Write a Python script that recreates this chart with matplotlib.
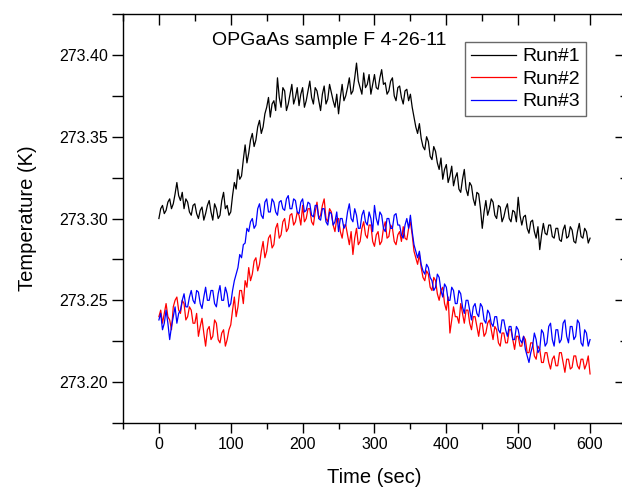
import matplotlib
matplotlib.use("Agg")
import matplotlib.pyplot as plt
from matplotlib.lines import TICKDOWN, TICKLEFT
from matplotlib.ticker import MultipleLocator, FormatStrFormatter
import numpy as np

plt.rcParams['font.family'] = ['Liberation Sans', 'DejaVu Sans']

# time axis (sec), read every 2.5 s
time = np.arange(0, 600.1, 2.5)

run1 = [273.300, 273.306, 273.308, 273.303, 273.305, 273.310, 273.312, 273.306, 273.309, 273.315,
        273.322, 273.314, 273.311, 273.316, 273.306, 273.312, 273.310, 273.304, 273.302, 273.308,
        273.309, 273.303, 273.300, 273.305, 273.307, 273.299, 273.303, 273.308, 273.311, 273.304,
        273.299, 273.309, 273.306, 273.300, 273.302, 273.311, 273.316, 273.306, 273.308, 273.302,
        273.304, 273.314, 273.322, 273.318, 273.330, 273.324, 273.326, 273.336, 273.345, 273.334,
        273.340, 273.348, 273.352, 273.344, 273.348, 273.356, 273.360, 273.352, 273.356, 273.364,
        273.368, 273.374, 273.362, 273.370, 273.372, 273.366, 273.386, 273.374, 273.368, 273.380,
        273.378, 273.366, 273.370, 273.376, 273.382, 273.370, 273.374, 273.380, 273.369, 273.376,
        273.380, 273.368, 273.372, 273.378, 273.384, 273.374, 273.370, 273.380, 273.378, 273.372,
        273.366, 273.376, 273.381, 273.370, 273.373, 273.382, 273.377, 273.372, 273.368, 273.376,
        273.364, 273.374, 273.382, 273.372, 273.375, 273.380, 273.386, 273.376, 273.378, 273.386,
        273.395, 273.384, 273.380, 273.376, 273.389, 273.380, 273.382, 273.388, 273.376, 273.382,
        273.388, 273.380, 273.379, 273.386, 273.391, 273.382, 273.383, 273.376, 273.378, 273.384,
        273.386, 273.375, 273.372, 273.380, 273.381, 273.374, 273.370, 273.378, 273.379, 273.372,
        273.376, 273.368, 273.362, 273.356, 273.352, 273.358, 273.349, 273.344, 273.342, 273.350,
        273.347, 273.338, 273.336, 273.344, 273.341, 273.334, 273.330, 273.337, 273.324, 273.330,
        273.333, 273.322, 273.326, 273.332, 273.320, 273.325, 273.328, 273.318, 273.316, 273.324,
        273.330, 273.318, 273.314, 273.322, 273.320, 273.312, 273.308, 273.316, 273.315, 273.306,
        273.294, 273.304, 273.311, 273.302, 273.306, 273.312, 273.310, 273.302, 273.300, 273.308,
        273.307, 273.298, 273.301, 273.306, 273.309, 273.300, 273.298, 273.305, 273.304, 273.298,
        273.313, 273.302, 273.296, 273.301, 273.302, 273.294, 273.291, 273.298, 273.299, 273.292,
        273.288, 273.295, 273.281, 273.290, 273.297, 273.291, 273.290, 273.296, 273.296, 273.289,
        273.288, 273.294, 273.294, 273.287, 273.286, 273.293, 273.296, 273.288, 273.289, 273.295,
        273.293, 273.286, 273.285, 273.292, 273.297, 273.289, 273.288, 273.294, 273.292, 273.285,
        273.288]

run2 = [273.240, 273.244, 273.236, 273.242, 273.248, 273.240, 273.238, 273.232, 273.246, 273.250,
        273.252, 273.244, 273.242, 273.250, 273.248, 273.238, 273.240, 273.246, 273.244, 273.236,
        273.236, 273.242, 273.228, 273.234, 273.239, 273.230, 273.222, 273.232, 273.234, 273.226,
        273.228, 273.238, 273.236, 273.226, 273.224, 273.230, 273.232, 273.222, 273.226, 273.232,
        273.235, 273.244, 273.252, 273.240, 273.246, 273.256, 273.256, 273.248, 273.262, 273.258,
        273.270, 273.262, 273.266, 273.274, 273.276, 273.268, 273.272, 273.280, 273.286, 273.276,
        273.280, 273.288, 273.290, 273.282, 273.284, 273.294, 273.297, 273.288, 273.290, 273.298,
        273.300, 273.292, 273.294, 273.302, 273.303, 273.296, 273.298, 273.304, 273.302, 273.296,
        273.308, 273.298, 273.300, 273.306, 273.306, 273.298, 273.296, 273.304, 273.310, 273.300,
        273.302, 273.308, 273.312, 273.300, 273.298, 273.306, 273.304, 273.296, 273.292, 273.300,
        273.300, 273.292, 273.288, 273.296, 273.296, 273.290, 273.284, 273.292, 273.278, 273.288,
        273.294, 273.284, 273.286, 273.294, 273.298, 273.290, 273.288, 273.296, 273.296, 273.286,
        273.283, 273.290, 273.292, 273.284, 273.286, 273.294, 273.298, 273.288, 273.289, 273.296,
        273.294, 273.286, 273.284, 273.290, 273.292, 273.286, 273.295, 273.288, 273.287, 273.294,
        273.298, 273.290, 273.280, 273.276, 273.272, 273.278, 273.270, 273.264, 273.262, 273.268,
        273.266, 273.258, 273.256, 273.264, 273.262, 273.254, 273.250, 273.256, 273.258, 273.248,
        273.244, 273.252, 273.230, 273.238, 273.246, 273.240, 273.240, 273.236, 273.248, 273.242,
        273.236, 273.244, 273.244, 273.236, 273.232, 273.240, 273.240, 273.234, 273.228, 273.236,
        273.236, 273.228, 273.230, 273.236, 273.238, 273.232, 273.226, 273.234, 273.232, 273.224,
        273.222, 273.230, 273.230, 273.224, 273.224, 273.232, 273.232, 273.226, 273.220, 273.228,
        273.228, 273.222, 273.222, 273.228, 273.226, 273.218, 273.218, 273.224, 273.224, 273.216,
        273.214, 273.222, 273.220, 273.212, 273.212, 273.218, 273.218, 273.212, 273.208, 273.214,
        273.216, 273.210, 273.210, 273.218, 273.218, 273.212, 273.206, 273.214, 273.214, 273.208,
        273.209, 273.216, 273.216, 273.210, 273.208, 273.214, 273.214, 273.208, 273.211, 273.216,
        273.205]

run3 = [273.238, 273.242, 273.232, 273.236, 273.244, 273.236, 273.226, 273.234, 273.240, 273.246,
        273.236, 273.242, 273.244, 273.250, 273.254, 273.246, 273.246, 273.252, 273.256, 273.250,
        273.248, 273.256, 273.255, 273.248, 273.245, 273.252, 273.258, 273.250, 273.250, 273.256,
        273.256, 273.248, 273.246, 273.254, 273.259, 273.250, 273.250, 273.258, 273.254, 273.246,
        273.248, 273.256, 273.262, 273.266, 273.270, 273.278, 273.276, 273.284, 273.285, 273.294,
        273.292, 273.298, 273.300, 273.294, 273.296, 273.306, 273.309, 273.302, 273.300, 273.310,
        273.312, 273.304, 273.304, 273.312, 273.310, 273.304, 273.302, 273.310, 273.311, 273.306,
        273.305, 273.312, 273.314, 273.306, 273.306, 273.312, 273.311, 273.304, 273.303, 273.310,
        273.312, 273.304, 273.305, 273.310, 273.309, 273.302, 273.301, 273.308, 273.308, 273.300,
        273.299, 273.306, 273.306, 273.298, 273.296, 273.304, 273.303, 273.296, 273.298, 273.304,
        273.292, 273.300, 273.300, 273.294, 273.296, 273.304, 273.309, 273.300, 273.298, 273.306,
        273.302, 273.294, 273.294, 273.302, 273.305, 273.298, 273.296, 273.304, 273.300, 273.292,
        273.308, 273.300, 273.296, 273.304, 273.302, 273.294, 273.292, 273.300, 273.300, 273.294,
        273.294, 273.302, 273.303, 273.296, 273.296, 273.290, 273.288, 273.296, 273.300, 273.294,
        273.302, 273.292, 273.284, 273.280, 273.276, 273.280, 273.272, 273.268, 273.266, 273.272,
        273.270, 273.264, 273.262, 273.256, 273.258, 273.266, 273.264, 273.256, 273.252, 273.260,
        273.258, 273.250, 273.250, 273.258, 273.256, 273.248, 273.248, 273.256, 273.254, 273.246,
        273.242, 273.250, 273.250, 273.244, 273.238, 273.246, 273.248, 273.242, 273.240, 273.248,
        273.246, 273.238, 273.236, 273.244, 273.242, 273.236, 273.234, 273.240, 273.240, 273.232,
        273.230, 273.238, 273.238, 273.232, 273.228, 273.234, 273.234, 273.226, 273.226, 273.234,
        273.232, 273.226, 273.224, 273.228, 273.220, 273.216, 273.212, 273.218, 273.222, 273.230,
        273.226, 273.218, 273.220, 273.232, 273.230, 273.222, 273.224, 273.234, 273.236, 273.226,
        273.222, 273.232, 273.232, 273.224, 273.226, 273.236, 273.238, 273.228, 273.224, 273.234,
        273.234, 273.226, 273.228, 273.238, 273.236, 273.224, 273.222, 273.232, 273.230, 273.222,
        273.226]

fig = plt.figure(figsize=(6.22, 4.87), dpi=100)
ax = fig.add_axes([0.1977, 0.1314, 0.8087, 0.8398])

ax.plot(time, run1, color='black', lw=0.9, label='Run#1')
ax.plot(time, run2, color='#ff0000', lw=0.9, label='Run#2')
ax.plot(time, run3, color='#0000ff', lw=0.9, label='Run#3')

ax.set_xlim(-50, 650)
ax.set_ylim(273.175, 273.425)

ax.xaxis.set_major_locator(MultipleLocator(100))
ax.xaxis.set_minor_locator(MultipleLocator(50))
ax.yaxis.set_major_locator(MultipleLocator(0.05))
ax.yaxis.set_minor_locator(MultipleLocator(0.025))
ax.yaxis.set_major_formatter(FormatStrFormatter('%.2f'))

# ticks out on bottom/left, in on top/right (origin style)
ax.tick_params(axis='x', which='major', direction='out', length=7, width=1, labelsize=11.5, pad=3)
ax.tick_params(axis='x', which='minor', direction='out', length=4, width=1)
ax.tick_params(axis='y', which='both', direction='out', length=8, width=1, labelsize=11.5, pad=3)
ax.tick_params(which='both', top=True, right=True)
for t in ax.xaxis.get_major_ticks():
    t.tick2line.set_marker(TICKDOWN)
    t.tick2line.set_markersize(8)
for t in ax.xaxis.get_minor_ticks():
    t.tick2line.set_marker(TICKDOWN)
    t.tick2line.set_markersize(5)
for t in ax.yaxis.get_major_ticks():
    t.tick2line.set_marker(TICKLEFT)
    t.tick2line.set_markersize(8)
for t in ax.yaxis.get_minor_ticks():
    t.tick2line.set_marker(TICKLEFT)
    t.tick2line.set_markersize(4)

for s in ax.spines.values():
    s.set_linewidth(1)

ax.set_xlabel('Time (sec)', fontsize=14.5, labelpad=11.5)
ax.set_ylabel('Temperature (K)', fontsize=14.5, labelpad=16)

ax.text(0.4105, 0.936, 'OPGaAs sample F 4-26-11', transform=ax.transAxes,
        ha='center', va='center', fontsize=14)

leg = ax.legend(loc='upper left', bbox_to_anchor=(0.680, 0.9315), borderaxespad=0,
                fontsize=14, frameon=True, fancybox=False, handlelength=2.3,
                handletextpad=0.35, labelspacing=0.25, borderpad=0.3)
leg.get_frame().set_edgecolor('#444444')
leg.get_frame().set_linewidth(1)

fig.savefig('out.png', dpi=100)
